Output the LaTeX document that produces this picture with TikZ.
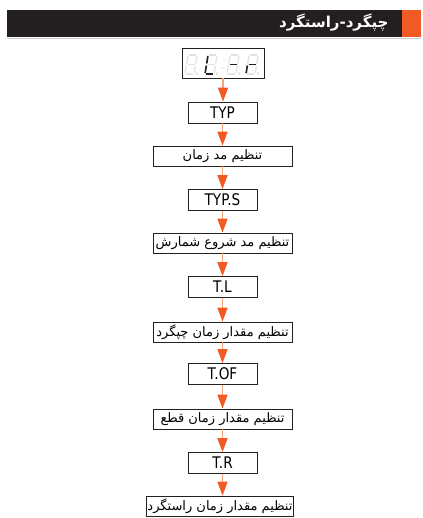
\documentclass[tikz,border=0pt]{standalone}
\usepackage{fontspec}
\usetikzlibrary{arrows.meta}
\TeXXeTstate=1
\newfontfamily\arabicfont[Script=Arabic]{DejaVu Sans}
\newfontfamily\codefont[FakeStretch=0.85]{DejaVu Sans}
\definecolor{barblack}{HTML}{231F20}
\definecolor{barorange}{HTML}{F15A24}
\definecolor{shaftcol}{HTML}{F6A27E}
\definecolor{tipcol}{HTML}{F15A22}
\definecolor{segoff}{HTML}{E2E2E2}
\tikzset{
  codebox/.style={draw=barblack, line width=0.8pt, minimum width=69pt, minimum height=21pt, inner sep=0pt, font=\codefont\fontsize{16}{16}\selectfont},
  textbox/.style={draw=barblack, line width=0.8pt, minimum width=139pt, minimum height=20pt, inner sep=1pt, font=\arabicfont\fontsize{13}{13}\selectfont},
  flow/.style={shaftcol, line width=1.6pt, -{Triangle[length=14pt,width=10pt,color=tipcol]}},
  segon/.style={barblack, line width=1.6pt},
  segfaint/.style={segoff, line width=1.3pt}
}
\newcommand\dseg[6]{\draw[#1] ({#2+#3+0.16*#4},{74-#4}) -- ({#2+#5+0.16*#6},{74-#6});}

\begin{document}
\begin{tikzpicture}[x=1pt,y=-1pt]
\useasboundingbox (0,0) rectangle (422,518);
% header
\fill[barblack] (7,10) rectangle (402,37);
\fill[barorange] (402,10) rectangle (421,37);
\draw[black!20, line width=0.6pt] (7,38) -- (421,38);
\node[anchor=east, text=white, font=\arabicfont\bfseries\fontsize{15}{15}\selectfont] (title) at (392,23) {\beginR چپگرد-راستگرد\endR};

% display
\node[draw=barblack, line width=0.8pt, minimum width=82pt, minimum height=30pt, inner sep=0pt] (disp) at (223,63) {};
\foreach \dx in {185,205,227,246} {
  \foreach \ua/\va/\ub/\vb in {1/19/8/19, 9/18/9/10.5, 9/8.5/9/1, 1/0/8/0, 0/8.5/0/1, 0/18/0/10.5, 1/9.5/8/9.5}
    \dseg{segfaint}{\dx}{\ua}{\va}{\ub}{\vb}
  \fill[segoff] (\dx+12,73.5) circle (1pt);
}
\fill[segoff] (224,60) circle (0.9pt) (222.6,68) circle (0.9pt);
% L
\dseg{segon}{205}{0}{18}{0}{10.5}
\dseg{segon}{205}{0}{8.5}{0}{1}
\dseg{segon}{205}{1}{0}{8}{0}
% -
\dseg{segon}{227}{1}{9.5}{8}{9.5}
% r
\dseg{segon}{246}{0}{8.5}{0}{1}
\dseg{segon}{246}{1}{9.5}{8}{9.5}

% steps
\node[codebox] (typ) at (222.5,112.5) {TYP};
\node[textbox] (tmode) at (222.5,156) {\beginR تنظیم مد زمان\endR};
\node[codebox] (typs) at (222.5,200) {TYP.S};
\node[textbox] (tstart) at (222.5,243) {\beginR تنظیم مد شروع شمارش\endR};
\node[codebox] (tl) at (222.5,287) {T.L};
\node[textbox] (tleft) at (222.5,332) {\beginR تنظیم مقدار زمان چپگرد\endR};
\node[codebox] (tof) at (222.5,374) {T.OF};
\node[textbox] (toff) at (222.5,419) {\beginR تنظیم مقدار زمان قطع\endR};
\node[codebox] (tr) at (222.5,463) {T.R};
\node[textbox, minimum width=146pt] (tright) at (220,506) {\beginR تنظیم مقدار زمان راستگرد\endR};

\foreach \a/\b in {disp/typ, typ/tmode, tmode/typs, typs/tstart, tstart/tl, tl/tleft, tleft/tof, tof/toff, toff/tr, tr/tright}
  \draw[flow] (\a.south) -- (\a.south |- \b.north);
\end{tikzpicture}
\end{document}
